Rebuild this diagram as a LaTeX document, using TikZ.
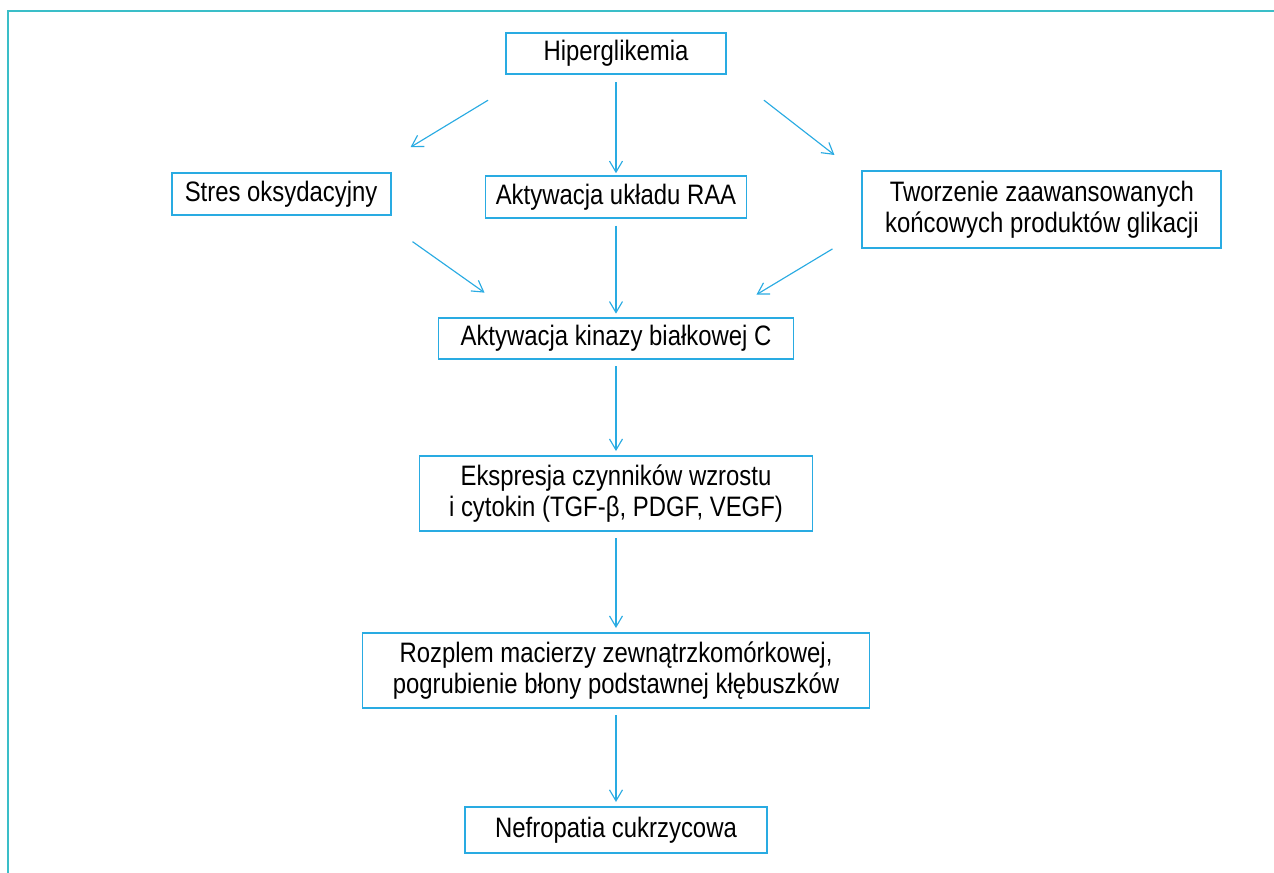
\documentclass[tikz,border=0pt]{standalone}
\usepackage{fontspec}
\setmainfont[FakeStretch=0.85]{Liberation Sans}
\usetikzlibrary{positioning,arrows.meta}
\definecolor{boxblue}{RGB}{41,171,226}
\definecolor{frameteal}{RGB}{58,190,200}

\begin{document}
\begin{tikzpicture}[
  node distance=2cm,
  box/.style={draw=boxblue, line width=1.1pt, align=center, inner sep=0pt,
    minimum height=0.83cm, font=\fontsize{16}{17.5}\selectfont},
  arrow/.style={-{Straight Barb[length=2.2mm,width=2.6mm]}, boxblue, line width=0.65pt},
  frame/.style={frameteal, line width=1.3pt}
]
\useasboundingbox (-12.32,1.07) rectangle (13.16,-16.39);
\draw[frame] (13.16,0.85) -- (-12.16,0.85) -- (-12.16,-16.39);

\node[box, minimum width=4.4cm] (hiper) at (0,0) {Hiperglikemia};
\node[box, minimum width=5.22cm, below=of hiper] (raa) {Aktywacja układu RAA};
\node[box, minimum width=4.38cm, left=1.86cm of raa, yshift=0.06cm] (stres) {Stres oksydacyjny};
\node[box, minimum width=7.18cm, minimum height=1.54cm, right=2.28cm of raa, yshift=-0.25cm] (ages)
  {Tworzenie zaawansowanych\\końcowych produktów glikacji};
\node[box, minimum width=7.1cm, below=1.96cm of raa] (pkc) {Aktywacja kinazy białkowej C};
\node[box, minimum width=7.86cm, minimum height=1.5cm, below=1.9cm of pkc] (ekspr)
  {Ekspresja czynników wzrostu\\i cytokin (TGF-β, PDGF, VEGF)};
\node[box, minimum width=10.14cm, minimum height=1.5cm, below=of ekspr] (rozplem)
  {Rozplem macierzy zewnątrzkomórkowej,\\pogrubienie błony podstawnej kłębuszków};
\node[box, minimum width=6.04cm, minimum height=0.92cm, below=1.94cm of rozplem] (nefro) {Nefropatia cukrzycowa};

% from Hiperglikemia
\draw[arrow] ([xshift=-0.34cm,yshift=-0.5cm]hiper.south west) -- ([xshift=0.38cm,yshift=0.5cm]stres.north east);
\draw[arrow, shorten <=0.14cm, shorten >=0.04cm] (hiper) -- (raa);
\draw[arrow] ([xshift=0.74cm,yshift=-0.5cm]hiper.south east) -- ([xshift=-0.54cm,yshift=0.3cm]ages.north west);

% towards kinaza C
\draw[arrow] ([xshift=0.42cm,yshift=-0.52cm]stres.south east) -- ([xshift=0.94cm,yshift=0.48cm]pkc.north west);
\draw[arrow, shorten <=0.14cm, shorten >=0.06cm] (raa) -- (pkc);
\draw[arrow] ([xshift=-0.58cm]ages.south west) -- ([xshift=-0.76cm,yshift=0.44cm]pkc.north east);

% main chain
\draw[arrow, shorten <=0.12cm, shorten >=0.08cm] (pkc) -- (ekspr);
\draw[arrow, shorten <=0.12cm, shorten >=0.08cm] (ekspr) -- (rozplem);
\draw[arrow, shorten <=0.12cm, shorten >=0.08cm] (rozplem) -- (nefro);
\end{tikzpicture}
\end{document}
